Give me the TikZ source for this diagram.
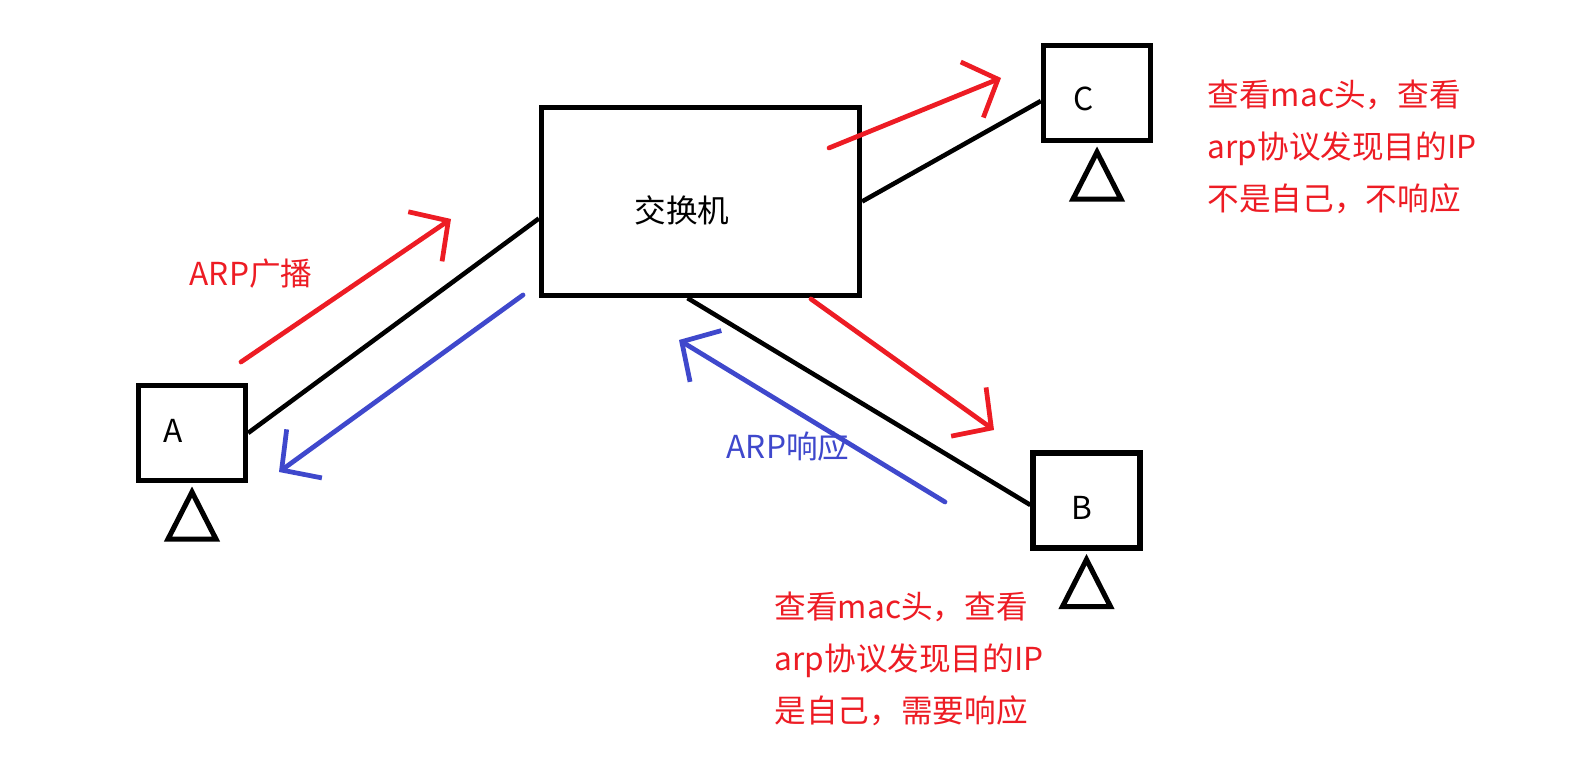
\documentclass[tikz,border=0pt]{standalone}
\usepackage{fontspec}
\setmainfont{Noto Sans CJK SC}
\usepackage{xcolor}
\usetikzlibrary{arrows.meta, calc}
\definecolor{paintred}{HTML}{ED1C24}
\definecolor{paintblue}{HTML}{3F48CC}

\begin{document}
\begin{tikzpicture}[
		font=\fontsize{9}{14.8}\selectfont,
		>={Straight Barb[length=2.8mm, width=6mm]},
		host/.style={draw, line width=1.5pt, inner sep=0pt,
			minimum width=1.07cm, minimum height=0.95cm},
		switchbox/.style={draw, line width=1.5pt, inner sep=0pt,
			minimum width=3.18cm, minimum height=1.88cm},
		link/.style={line width=1.3pt},
		stand/.style={line width=1.45pt},
		req/.style={->, paintred, line width=1.35pt, line cap=round, line join=round},
		rep/.style={->, paintblue, line width=1.35pt, line cap=round, line join=round},
		note/.style={paintred, align=left, anchor=west, inner sep=0pt}
		]
		\useasboundingbox (0,0) rectangle (15.9,7.8);
		
		%--- switch and hosts ------------------------------------------------------
		\node[switchbox] (switch) at (7.005,5.785) {};
		\node (switchlabel) at (6.82,5.70) {交换机};
		
		\node[host] (A) at (1.92,3.47) {};
		\node (Alabel) at (1.73,3.49) {A};
		\node[host] (C) at (10.97,6.87) {};
		\node (Clabel) at (10.84,6.81) {C};
		\node[host] (B) at (10.865,2.795) {};
		\node (Blabel) at (10.82,2.72) {B};
		
		%--- stands under the hosts ------------------------------------------------
		\foreach \h in {A,B,C}
		\draw[stand] ($(\h.south)+(0,-0.09)$) -- ++(-0.24,-0.47) -- ++(0.48,0) -- cycle;
		
		%--- cables ----------------------------------------------------------------
		\draw[link] (A.east) -- ([yshift=-0.17cm]switch.west);
		\draw[link] (switch.east) -- ([yshift=-0.08cm]C.west);
		\draw[link] ([xshift=-0.13cm]switch.south) -- ([yshift=-0.045cm]B.west);
		
		%--- broadcast and reply ---------------------------------------------------
		\coordinate (bcast0) at (2.41,4.18);
		\coordinate (bcast1) at (4.51,5.61);
		\coordinate (toC0) at (8.29,6.32);
		\coordinate (toC1) at (10.01,7.02);
		\coordinate (toB0) at (8.11,4.81);
		\coordinate (toB1) at (9.94,3.50);
		\coordinate (repA0) at (5.23,4.85);
		\coordinate (repA1) at (2.79,3.08);
		\coordinate (repB0) at (9.45,2.78);
		\coordinate (repB1) at (6.79,4.40);
		
		\draw[req] (bcast0) -- (bcast1);
		\draw[req] (toC0) -- (toC1);
		\draw[req] (toB0) -- (toB1);
		\draw[rep] (repB0) -- (repB1);
		\draw[rep] (repA0) -- (repA1);
		
		\node[paintred] (bcastlabel) at (2.51,5.06) {ARP广播};
		\node[paintblue] (replylabel) at (7.88,3.34) {ARP响应};
		
		%--- notes -----------------------------------------------------------------
		\node[note] (noteC) at (12.07,6.33)
		{查看mac头，查看\\arp协议发现目的IP\\不是自己，不响应};
		\node[note] (noteB) at (7.74,1.21)
		{查看mac头，查看\\arp协议发现目的IP\\是自己，需要响应};
	\end{tikzpicture}
\end{document}
